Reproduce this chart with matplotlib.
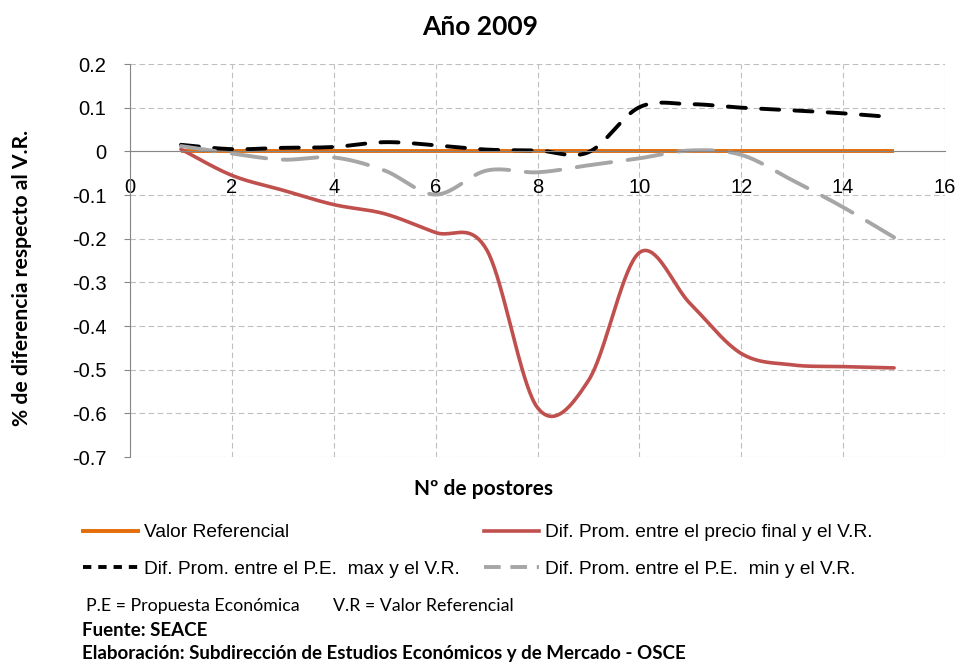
import numpy as np
import matplotlib
matplotlib.use("Agg")
import matplotlib.pyplot as plt
from matplotlib.lines import Line2D

plt.rcParams['lines.scale_dashes'] = False

# data
postores = [1, 2, 3, 4, 5, 6, 7, 8, 9, 10, 11, 12, 13, 14, 15]
valor_ref = [0] * 15
precio_final = [0.005, -0.055, -0.089, -0.122, -0.143, -0.186, -0.225, -0.587,
                -0.525, -0.232, -0.349, -0.463, -0.489, -0.493, -0.496]
pe_max = [0.015, 0.005, 0.008, 0.010, 0.021, 0.014, 0.004, 0.002,
          -0.002, 0.101, 0.108, 0.100, 0.094, 0.087, 0.078]
pe_min = [0.012, -0.005, -0.019, -0.014, -0.044, -0.099, -0.044, -0.048,
          -0.032, -0.016, 0.002, -0.008, -0.066, -0.128, -0.197]

x_ticks = [0, 2, 4, 6, 8, 10, 12, 14, 16]
y_ticks = [0.2, 0.1, 0, -0.1, -0.2, -0.3, -0.4, -0.5, -0.6, -0.7]
y_tick_labels = ["0.2", "0.1", "0", "-0.1", "-0.2", "-0.3", "-0.4", "-0.5", "-0.6", "-0.7"]

labels = ["Valor Referencial",
          "Dif. Prom. entre el precio final y el V.R.",
          "Dif. Prom. entre el P.E.  max y el V.R.",
          "Dif. Prom. entre el P.E.  min y el V.R."]


def excel_smooth(x, y, n=40):
    # catmull-rom through the points, drawn as cubic bezier segments (like excel)
    x = np.asarray(x, float)
    y = np.asarray(y, float)
    px = np.concatenate([[x[0]], x, [x[-1]]])
    py = np.concatenate([[y[0]], y, [y[-1]]])
    xs, ys = [], []
    t = np.linspace(0, 1, n)
    for i in range(1, len(px) - 2):
        p0 = np.array([px[i], py[i]])
        p3 = np.array([px[i + 1], py[i + 1]])
        c1 = p0 + (p3 - np.array([px[i - 1], py[i - 1]])) / 6
        c2 = p3 - (np.array([px[i + 2], py[i + 2]]) - p0) / 6
        b = ((1 - t) ** 3)[:, None] * p0 + (3 * (1 - t) ** 2 * t)[:, None] * c1 \
            + (3 * (1 - t) * t ** 2)[:, None] * c2 + (t ** 3)[:, None] * p3
        xs.append(b[:, 0])
        ys.append(b[:, 1])
    return np.concatenate(xs), np.concatenate(ys)


fig = plt.figure(figsize=(9.59, 6.66), dpi=100)
ax = fig.add_axes([130 / 959, 1 - 457 / 666, 815 / 959, 393 / 666])

c_orange = '#E46C0A'
c_red = '#C0504D'
c_black = '#000000'
c_gray = '#A6A6A6'

ax.plot(*excel_smooth(postores, valor_ref), color=c_orange, lw=2.8, solid_capstyle='butt')
ax.plot(*excel_smooth(postores, precio_final), color=c_red, lw=2.6, solid_capstyle='round')
ax.plot(*excel_smooth(postores, pe_max), color=c_black, lw=2.8, dashes=(13, 11), dash_capstyle='round')
ax.plot(*excel_smooth(postores, pe_min), color=c_gray, lw=2.8, dashes=(25, 12), dash_capstyle='round')

ax.set_xlim(0, 16)
ax.set_ylim(-0.7, 0.2)
ax.set_xticks(x_ticks)
ax.set_yticks(y_ticks)
ax.set_yticklabels(y_tick_labels)

ax.grid(True, color='#BFBFBF', lw=0.8, dashes=(4, 2.5))
ax.set_axisbelow(True)
for s in ['top', 'right']:
    ax.spines[s].set_visible(False)
ax.spines['bottom'].set_position(('data', 0))
ax.spines['bottom'].set_color('#868686')
ax.spines['left'].set_color('#868686')
ax.tick_params(axis='x', length=0, pad=19, labelsize=14.5)
ax.tick_params(axis='y', length=4, color='#868686', pad=13, labelsize=14.5)
for lab in ax.get_xticklabels() + ax.get_yticklabels():
    lab.set_family('Liberation Sans')

fig.text(480 / 959, 1 - 27 / 666, "Año 2009", ha='center', va='center',
         fontsize=19, fontweight='bold', family='Lato')
fig.text(483 / 959, 1 - 489 / 666, "Nº de postores", ha='center', va='center',
         fontsize=15, fontweight='bold', family='Lato')
fig.text(22 / 959, 1 - 278 / 666, "% de diferencia respecto al V.R.", ha='center', va='center',
         rotation=90, fontsize=15.2, fontweight='bold', family='Lato')

handles = [Line2D([], [], color=c_orange, lw=2.8),
           Line2D([], [], color=c_black, lw=2.8, dashes=(6, 5)),
           Line2D([], [], color=c_red, lw=2.6),
           Line2D([], [], color=c_gray, lw=2.8, dashes=(12, 7))]
fig.legend(handles, [labels[0], labels[2], labels[1], labels[3]], ncol=2,
           loc='upper left', bbox_to_anchor=(83 / 959, 1 - 524 / 666),
           frameon=False, prop={'family': 'Liberation Sans', 'size': 13.8},
           handlelength=2.86, handletextpad=0.3, columnspacing=1.3, labelspacing=1.0,
           borderaxespad=0, borderpad=0)

fig.text(86 / 959, 1 - 606 / 666, "P.E = Propuesta Económica",
         ha='left', va='center', fontsize=12.8, family='Lato')
fig.text(333 / 959, 1 - 606 / 666, "V.R = Valor Referencial",
         ha='left', va='center', fontsize=12.8, family='Lato')
fig.text(82 / 959, 1 - 630 / 666, "Fuente: SEACE", ha='left', va='center',
         fontsize=13.5, fontweight='bold', family='Lato')
fig.text(82 / 959, 1 - 654 / 666, "Elaboración: Subdirección de Estudios Económicos y de Mercado - OSCE",
         ha='left', va='center', fontsize=13.5, fontweight='bold', family='Lato')

fig.savefig("out.png", dpi=100)
